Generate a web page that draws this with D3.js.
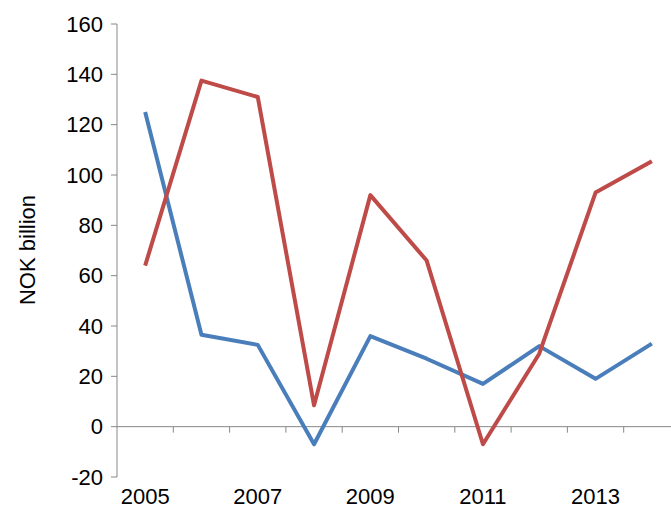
<!DOCTYPE html>
<html><head><meta charset="utf-8">
<script src="https://cdn.jsdelivr.net/npm/d3@7"></script>
<style>body{margin:0;background:#fff}</style></head>
<body><div id="container"></div>
<script>
const years = [2005, 2006, 2007, 2008, 2009, 2010, 2011, 2012, 2013, 2014];
const blueValues = [125, 36.5, 32.5, -7, 36, 27, 17, 32, 19, 33];
const redValues = [64, 137.5, 131, 8.5, 92, 66, -7, 29, 93, 105.5];
const yTicks = [-20, 0, 20, 40, 60, 80, 100, 120, 140, 160];
const xLabels = [2005, 2007, 2009, 2011, 2013];

const width = 671, height = 521;
const x = d3.scaleBand().domain(years).range([117, 680]);
const y = d3.scaleLinear().domain([-20, 160]).range([477, 24]);

const svg = d3.select("#container").append("svg")
  .attr("width", width).attr("height", height)
  .style("font-family", "Liberation Sans, Arial, sans-serif");

// y axis
const ya = svg.append("g").attr("transform", "translate(117,0)");
ya.append("line").attr("y1", y(-20)).attr("y2", y(160)).attr("stroke", "#888");
ya.selectAll("line.t").data(yTicks).join("line").attr("class", "t")
  .attr("x1", -6).attr("x2", 0).attr("y1", d => y(d)).attr("y2", d => y(d)).attr("stroke", "#888");
ya.selectAll("text").data(yTicks).join("text")
  .attr("x", -14).attr("y", d => y(d)).attr("dy", "0.35em")
  .attr("text-anchor", "end").attr("font-size", 22).text(d => d);

// x axis at zero
const xa = svg.append("g").attr("transform", `translate(0,${y(0)})`);
xa.append("line").attr("x1", 117).attr("x2", 680).attr("stroke", "#888");
xa.selectAll("line.t").data(years.slice(1)).join("line").attr("class", "t")
  .attr("x1", d => x(d)).attr("x2", d => x(d)).attr("y1", 0).attr("y2", 6).attr("stroke", "#888");
svg.selectAll("text.xl").data(xLabels).join("text").attr("class", "xl")
  .attr("x", d => x(d) + x.bandwidth() / 2).attr("y", 504)
  .attr("text-anchor", "middle").attr("font-size", 22).text(d => d);

svg.append("text").attr("transform", "translate(35,250) rotate(-90)")
  .attr("text-anchor", "middle").attr("font-size", 22).text("NOK billion");

const line = d3.line().x((d, i) => x(years[i]) + x.bandwidth() / 2).y(d => y(d));
svg.append("path").datum(blueValues).attr("d", line).attr("fill", "none")
  .attr("stroke", "#4a7ebb").attr("stroke-width", 4).attr("stroke-linejoin", "round");
svg.append("path").datum(redValues).attr("d", line).attr("fill", "none")
  .attr("stroke", "#be4b48").attr("stroke-width", 4).attr("stroke-linejoin", "round");
</script></body></html>
